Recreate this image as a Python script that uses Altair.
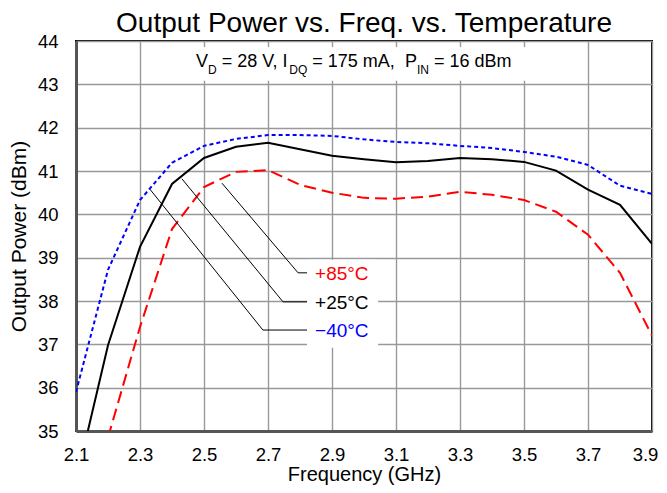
import altair as alt
import pandas as pd

FONT = "Liberation Sans"

# ---- data ----
freq = [2.1, 2.2, 2.3, 2.4, 2.5, 2.6, 2.7, 2.8, 2.9, 3.0,
        3.1, 3.2, 3.3, 3.4, 3.5, 3.6, 3.7, 3.8, 3.9]
pout_m40 = [35.90, 38.72, 40.33, 41.19, 41.58, 41.74, 41.83, 41.83, 41.81, 41.73,
            41.67, 41.64, 41.58, 41.53, 41.44, 41.33, 41.14, 40.66, 40.47]
pout_p25 = [33.84, 36.98, 39.25, 40.70, 41.30, 41.56, 41.65, 41.50, 41.35, 41.27,
            41.20, 41.23, 41.30, 41.27, 41.21, 41.01, 40.57, 40.22, 39.32]
pout_p85 = [None, 34.85, 37.40, 39.66, 40.63, 40.98, 41.02, 40.68, 40.50, 40.38,
            40.36, 40.41, 40.52, 40.45, 40.33, 40.06, 39.53, 38.65, 37.20]

x_ticks = [2.1, 2.3, 2.5, 2.7, 2.9, 3.1, 3.3, 3.5, 3.7, 3.9]
y_ticks = [35, 36, 37, 38, 39, 40, 41, 42, 43, 44]

title_text = "Output Power vs. Freq. vs. Temperature"

label_names = ["+85°C", "+25°C", "\u221240°C"]
label_colors = ["#ff0000", "#000000", "#0000ff"]
leader_start_x = [2.556, 2.431, 2.331]
leader_start_y = [40.72, 40.82, 40.58]
leader_elbow_x = [2.794, 2.747, 2.684]
leader_y = [38.65, 37.98, 37.33]
leader_end_x = 2.822
label_x = 2.847

sub_main_text = ["V", "= 28 V, I", "= 175 mA,", "P", "= 16 dBm"]
sub_main_x = [2.475, 2.5553, 2.8384, 3.1278, 3.2184]
sub_small_text = ["D", "DQ", "IN"]
sub_small_x = [2.5125, 2.7666, 3.1653]
sub_main_y = 43.40
sub_small_y = 43.24

# white boxes behind annotation texts (hide grid)
box_x = [2.822, 2.33]
box_x2 = [3.044, 3.67]
box_y = [36.92, 43.08]
box_y2 = [38.95, 43.86]

# ---- tables ----
def series_df(vals):
    d = pd.DataFrame({"f": freq, "p": vals})
    return d.dropna()

df_m40 = series_df(pout_m40)
df_p25 = series_df(pout_p25)
df_p85 = series_df(pout_p85)

lead_rows = []
for i, n in enumerate(label_names):
    lead_rows.append({"leader": n, "o": 0, "x": leader_start_x[i], "y": leader_start_y[i]})
    lead_rows.append({"leader": n, "o": 1, "x": leader_elbow_x[i], "y": leader_y[i]})
    lead_rows.append({"leader": n, "o": 2, "x": leader_end_x, "y": leader_y[i]})
df_lead = pd.DataFrame(lead_rows)

df_lab = pd.DataFrame({"name": label_names, "x": [label_x] * 3, "y": leader_y,
                       "color": label_colors})
df_box = pd.DataFrame({"x": box_x, "x2": box_x2, "y": box_y, "y2": box_y2})
df_sm = pd.DataFrame({"t": sub_main_text, "x": sub_main_x, "y": [sub_main_y] * len(sub_main_x)})
df_ss = pd.DataFrame({"t": sub_small_text, "x": sub_small_x, "y": [sub_small_y] * len(sub_small_x)})
df_title = pd.DataFrame({"t": [title_text]})

xs = alt.Scale(domain=[2.1, 3.9], nice=False, zero=False)
ys = alt.Scale(domain=[35, 44], nice=False, zero=False)

X = alt.X("f:Q", scale=xs, title="Frequency (GHz)",
          axis=alt.Axis(values=x_ticks, format=".1f", labelPadding=14, titlePadding=1,
                        titleFontSize=20, labelFlush=False,
                        labelOffset={"condition": {"test": "datum.value > 3.85", "value": -7}, "value": 0}))
Y = alt.Y("p:Q", scale=ys, title="Output Power (dBm)",
          axis=alt.Axis(values=y_ticks, labelPadding=18, titlePadding=8, labelFlush=False))

boxes = alt.Chart(df_box).mark_rect(fill="white", strokeWidth=0).encode(
    x=alt.X("x:Q", scale=xs), x2="x2:Q", y=alt.Y("y:Q", scale=ys), y2="y2:Q")

line_m40 = alt.Chart(df_m40).mark_line(color="#0000ff", strokeWidth=2, strokeDash=[4, 3], clip=True).encode(x=X, y=Y)
line_p25 = alt.Chart(df_p25).mark_line(color="#000000", strokeWidth=2, clip=True).encode(x=X, y=Y)
line_p85 = alt.Chart(df_p85).mark_line(color="#ff0000", strokeWidth=2, strokeDash=[12, 6], clip=True).encode(x=X, y=Y)

leaders = alt.Chart(df_lead).mark_line(color="black", strokeWidth=1).encode(
    x=alt.X("x:Q", scale=xs), y=alt.Y("y:Q", scale=ys), detail="leader:N", order="o:Q")

labels = alt.Chart(df_lab).mark_text(align="left", baseline="middle", fontSize=19, font=FONT, dy=1).encode(
    x=alt.X("x:Q", scale=xs), y=alt.Y("y:Q", scale=ys), text="name:N",
    color=alt.Color("color:N", scale=None))

sub_main = alt.Chart(df_sm).mark_text(align="left", baseline="alphabetic", fontSize=18, font=FONT, color="black").encode(
    x=alt.X("x:Q", scale=xs), y=alt.Y("y:Q", scale=ys), text="t:N")
sub_small = alt.Chart(df_ss).mark_text(align="left", baseline="alphabetic", fontSize=12, font=FONT, color="black").encode(
    x=alt.X("x:Q", scale=xs), y=alt.Y("y:Q", scale=ys), text="t:N")

title = alt.Chart(df_title).mark_text(align="center", baseline="alphabetic", fontSize=28, font=FONT,
                                      color="black", clip=False).encode(
    x=alt.value(288), y=alt.value(-9), text="t:N")

chart = alt.layer(boxes, line_m40, line_p25, line_p85, leaders, labels, sub_main, sub_small, title).properties(
    width=576, height=390,
    autosize=alt.AutoSizeParams(type="none"),
    padding={"left": 68, "top": 33, "right": 7, "bottom": 54},
    background="white",
).configure_view(stroke="black", strokeWidth=2).configure_axis(
    grid=True, gridColor="#999999", gridWidth=1.4,
    domainColor="#555555", domainWidth=3,
    ticks=False, tickSize=0,
    labelFont=FONT, labelFontSize=18.5, labelColor="black",
    titleFont=FONT, titleFontSize=21, titleFontWeight="normal", titleColor="black",
)

chart.save("out.html", embed_options={"renderer": "svg", "actions": False})
